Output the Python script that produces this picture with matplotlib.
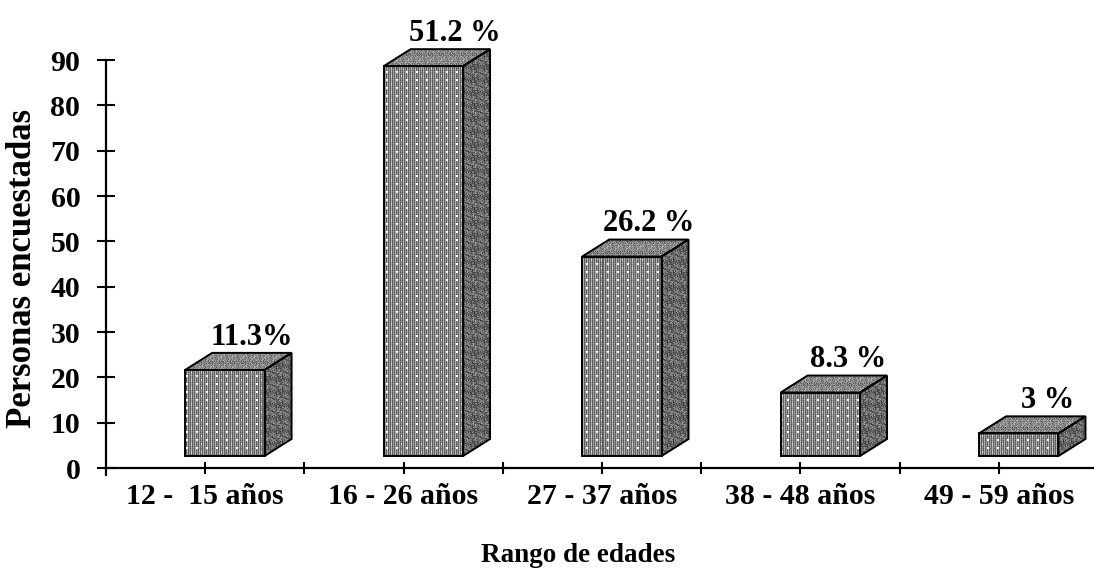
import numpy as np
import matplotlib
matplotlib.use("Agg")
import matplotlib.pyplot as plt
from matplotlib.patches import Polygon

# ---- data -------------------------------------------------------------
categories = ["12 -  15 años", "16 - 26 años", "27 - 37 años", "38 - 48 años", "49 - 59 años"]
personas = [19, 86, 44, 14, 5]
pct_labels = ["11.3%", "51.2 %", "26.2 %", "8.3 %", "3 %"]
y_ticks = [0, 10, 20, 30, 40, 50, 60, 70, 80, 90]

# ---- style ------------------------------------------------------------
FONT = "Liberation Serif"
plt.rcParams["font.family"] = FONT
plt.rcParams["font.weight"] = "bold"

W, H, DPI = 1094, 568, 100
fig = plt.figure(figsize=(W / DPI, H / DPI), dpi=DPI)
ax = fig.add_axes([0.0969, 0.1521, 0.9022, 0.822])

XLIM = (-0.499, 4.474)
YLIM = (-3.0, 100.0)
ax.set_xlim(*XLIM)
ax.set_ylim(*YLIM)

# 3D look parameters (data units)
BASE = 2.65        # floor lift of the front face
BAR_W = 0.40
BAR_SHIFT = -0.10  # left edge of front face relative to category centre
DX, DY = 0.136, 3.75


def make_texture(kind, shape):
    r = np.arange(shape[0])[:, None]
    c = np.arange(shape[1])[None, :]
    if kind == "front":
        v = 0.42 + 0.22 * (c % 2) - 0.08 * (r % 2)
        v = np.where((c % 4) == 1, v + 0.10, v)
        dots = ((r % 8) < 2) & ((c % 10) < 2)
        dash = ((c % 10) == 5) & ((r % 8) > 3) & ((r % 8) < 6)
        v = np.where(dots, 0.98, v)
        v = np.where(dash, 0.85, v)
    elif kind == "side":
        h = (r * r * 7 + c * c * 3 + r * c * 5 + c * 11) % 13
        v = 0.22 + 0.32 * (h / 12.0) + 0.06 * (c % 2)
    else:  # top
        h = (r * r * 5 + c * c * 7 + r * c * 3 + r * 2) % 11
        v = 0.34 + 0.32 * (h / 10.0) + 0.05 * (r % 2)
    return np.clip(v, 0, 1)


bbox = ax.get_window_extent()
tex_shape = (int(round(bbox.height)), int(round(bbox.width)))
textures = {k: make_texture(k, tex_shape) for k in ("front", "side", "top")}


def textured_face(verts, kind):
    poly = Polygon(verts, closed=True, facecolor="none", edgecolor="black",
                   linewidth=1.4, joinstyle="miter", zorder=4,
                   transform=ax.transData, clip_on=False)
    ax.add_patch(poly)
    im = ax.imshow(textures[kind], cmap="gray", vmin=0, vmax=1,
                   extent=(XLIM[0], XLIM[1], YLIM[0], YLIM[1]), origin="upper",
                   interpolation="nearest", aspect="auto", zorder=3)
    im.set_clip_path(poly)


label_dx = [0.235, 0.26, 0.235, 0.24, 0.245]
for i, (val, lab) in enumerate(zip(personas, pct_labels)):
    x0 = i + BAR_SHIFT
    x1 = x0 + BAR_W
    b, t = BASE, BASE + val
    front = [(x0, b), (x1, b), (x1, t), (x0, t)]
    top = [(x0, t), (x1, t), (x1 + DX, t + DY), (x0 + DX, t + DY)]
    side = [(x1, b), (x1 + DX, b + DY), (x1 + DX, t + DY), (x1, t)]
    textured_face(front, "front")
    textured_face(top, "top")
    textured_face(side, "side")
    ax.annotate(lab, xy=(i + label_dx[i], t + DY), xytext=(0, 6), textcoords="offset points",
                ha="center", va="baseline", fontsize=22, fontweight="bold",
                family=FONT, zorder=5, annotation_clip=False)

ax.set_xlim(*XLIM)
ax.set_ylim(*YLIM)

# ---- axes -------------------------------------------------------------
for s in ("top", "right"):
    ax.spines[s].set_visible(False)
ax.spines["left"].set_bounds(-1.5, 90)
ax.spines["bottom"].set_position(("data", 0))
ax.spines["left"].set_linewidth(1.6)
ax.spines["bottom"].set_linewidth(1.6)

ax.set_yticks(y_ticks)
ax.set_yticklabels([str(v) for v in y_ticks])
ax.tick_params(axis="y", direction="inout", length=13, width=1.5, pad=12,
               labelsize=21.5)

ax.set_xticks(range(len(categories)))
ax.set_xticklabels(categories)
ax.set_xticks([k + 0.5 for k in range(len(categories) - 1)], minor=True)
ax.tick_params(axis="x", which="both", direction="inout", length=9, width=1.5,
               pad=6, labelsize=21.5)

for lbl in ax.get_xticklabels() + ax.get_yticklabels():
    lbl.set_fontweight("bold")

fig.text(23 / W, 1 - 268 / H, "Personas encuestadas", rotation=90, ha="center",
         va="center", fontsize=25, fontweight="bold", family=FONT)
fig.text(578 / W, 1 - 555 / H, "Rango de edades", ha="center", va="center",
         fontsize=19.5, fontweight="bold", family=FONT)

fig.savefig("out.png", dpi=DPI)
